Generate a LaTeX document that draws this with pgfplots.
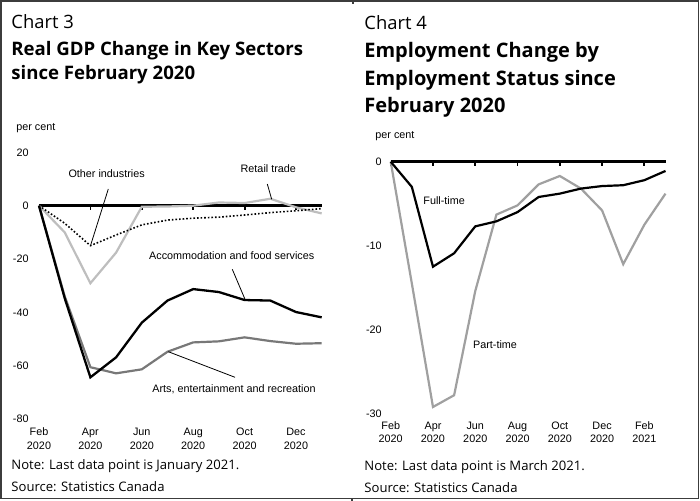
\documentclass[border=0pt]{standalone}
\usepackage{fontspec}
\usepackage{pgfplots}
\pgfplotsset{compat=1.18}
\newfontfamily\seg{Open Sans}
\newfontfamily\ari{Liberation Sans}
\definecolor{retail}{RGB}{190,190,190}
\definecolor{arts}{RGB}{120,120,120}
\definecolor{part}{RGB}{160,160,160}
\definecolor{frame}{RGB}{60,60,60}
\newcommand{\lab}{\ari\fontsize{5.4}{7}\selectfont}
\begin{document}
\begin{tikzpicture}[x=0.5pt,y=-0.5pt]
\path[use as bounding box] (0,0) rectangle (700,501);
\draw[frame, line width=0.8pt] (1,1) rectangle (698.5,498.5);
\draw[frame, line width=0.6pt] (353,1)--(353,4);
\draw[frame, line width=0.6pt] (352,498.5)--(352,501);
% titles
\node[anchor=base west, inner sep=0] at (11,28.5) {\seg\fontsize{9.2}{11}\selectfont Chart 3};
\node[anchor=base west, inner sep=0] at (11,55.5) {\seg\bfseries\fontsize{9.3}{11}\selectfont Real GDP Change in Key Sectors};
\node[anchor=base west, inner sep=0] at (11,80) {\seg\bfseries\fontsize{9.3}{11}\selectfont since February 2020};
\node[anchor=base west, inner sep=0] at (364,29.3) {\seg\fontsize{9.2}{11}\selectfont Chart 4};
\node[anchor=base west, inner sep=0] at (364,57.3) {\seg\bfseries\fontsize{10}{11}\selectfont Employment Change by};
\node[anchor=base west, inner sep=0] at (364,85.7) {\seg\bfseries\fontsize{10}{11}\selectfont Employment Status since};
\node[anchor=base west, inner sep=0] at (364,112.7) {\seg\bfseries\fontsize{10}{11}\selectfont February 2020};
% notes
\node[anchor=base west, inner sep=0] at (11,469.5) {\seg\fontsize{6.55}{8}\selectfont Note: Last data point is January 2021.};
\node[anchor=base west, inner sep=0] at (11,491.7) {\seg\fontsize{6.55}{8}\selectfont Source: Statistics Canada};
\node[anchor=base west, inner sep=0] at (364,470.7) {\seg\fontsize{6.55}{8}\selectfont Note: Last data point is March 2021.};
\node[anchor=base west, inner sep=0] at (364,492.3) {\seg\fontsize{6.55}{8}\selectfont Source: Statistics Canada};
% per cent
\node[anchor=west, inner sep=0] at (16,127.7) {\lab per cent};
\node[anchor=west, inner sep=0] at (375,135.7) {\lab per cent};
\coordinate (A3) at (39,418.9);
\coordinate (A4) at (390.7,413.7);
\begin{axis}[at={(A3)}, anchor=south west, scale only axis,
  width=141.35pt, height=133.25pt,
  xmin=0, xmax=11, ymin=-80, ymax=20, clip=false,
  axis line style={draw=none}, major tick length=0,
  xtick={0,2,4,6,8,10},
  xticklabels={Feb,Apr,Jun,Aug,Oct,Dec},
  xticklabel style={inner sep=0, anchor=base, font=\lab},
  xticklabel shift=0pt,
  every x tick label/.append style={yshift=-8.5pt},
  extra x ticks={0,2,4,6,8,10},
  extra x tick labels={2020,2020,2020,2020,2020,2020},
  extra x tick style={major tick length=0, xticklabel style={yshift=-7pt}},
  ytick={-80,-60,-40,-20,0,20},
  yticklabels={-80,-60,-40,-20,0,20},
  yticklabel style={inner sep=0, anchor=east, xshift=-5pt, font=\lab},
]
\addplot[black, line width=1.5pt] coordinates {(0,0)(11,0)};
\addplot[black, line width=0.9pt, ycomb] coordinates {(2,-1.6)(4,-1.6)(6,-1.6)(8,-1.6)(10,-1.6)};
\addplot[retail, line width=1.1pt] coordinates {(0,0)(1,-10.0)(2,-29.1)(3,-17.6)(4,-0.4)(5,-0.3)(6,0.0)(7,1.2)(8,1.0)(9,2.6)(10,-0.6)(11,-2.9)};
\addplot[black, line width=0.8pt, densely dotted] coordinates {(0,0)(1,-6.6)(2,-15.0)(3,-11.0)(4,-7.2)(5,-5.4)(6,-4.7)(7,-4.3)(8,-3.5)(9,-2.6)(10,-1.9)(11,-1.1)};
\addplot[arts, line width=1.1pt] coordinates {(0,0)(1,-34.0)(2,-60.6)(3,-62.9)(4,-61.4)(5,-54.8)(6,-51.3)(7,-50.9)(8,-49.4)(9,-50.8)(10,-51.8)(11,-51.6)};
\addplot[black, line width=1.15pt] coordinates {(0,0)(1,-34.7)(2,-64.4)(3,-56.9)(4,-43.9)(5,-35.6)(6,-31.3)(7,-32.4)(8,-35.4)(9,-35.6)(10,-39.9)(11,-41.9)};
\end{axis}
\begin{axis}[at={(A4)}, anchor=south west, scale only axis,
  width=137.4pt, height=126pt,
  xmin=0, xmax=13, ymin=-30, ymax=0, clip=false,
  axis line style={draw=none}, major tick length=0,
  xtick={0,2,4,6,8,10,12},
  xticklabels={Feb,Apr,Jun,Aug,Oct,Dec,Feb},
  xticklabel style={inner sep=0, anchor=base, font=\lab},
  xticklabel shift=0pt,
  every x tick label/.append style={yshift=-8.1pt},
  extra x ticks={0,2,4,6,8,10,12},
  extra x tick labels={2020,2020,2020,2020,2020,2020,2021},
  extra x tick style={major tick length=0, xticklabel style={yshift=-6.5pt}},
  ytick={-30,-20,-10,0},
  yticklabels={-30,-20,-10,0},
  yticklabel style={inner sep=0, anchor=east, xshift=-4.3pt, font=\lab},
]
\addplot[black, line width=1.5pt] coordinates {(0,0)(13,0)};
\addplot[black, line width=0.9pt, ycomb] coordinates {(0,-0.55)(2,-0.55)(4,-0.55)(6,-0.55)(8,-0.55)(10,-0.55)(12,-0.55)};
\addplot[part, line width=1.1pt] coordinates {(0,0)(1,-14.5)(2,-29.2)(3,-27.8)(4,-15.4)(5,-6.3)(6,-5.2)(7,-2.7)(8,-1.7)(9,-3.2)(10,-5.8)(11,-12.2)(12,-7.5)(13,-3.8)};
\addplot[black, line width=1.1pt] coordinates {(0,0)(1,-3.0)(2,-12.5)(3,-10.9)(4,-7.7)(5,-7.1)(6,-6.0)(7,-4.2)(8,-3.8)(9,-3.2)(10,-2.9)(11,-2.8)(12,-2.2)(13,-1.1)};
\end{axis}
% annotations chart 3
\node[inner sep=0] at (106.7,173.3) {\lab Other industries};
\draw[black, line width=0.4pt] (108.3,189)--(90.7,245);
\node[inner sep=0] at (268.3,168.3) {\lab Retail trade};
\draw[black, line width=0.4pt] (267.3,184)--(271.7,199.3);
\node[inner sep=0] at (231.7,255.7) {\lab Accommodation and food services};
\draw[black, line width=0.4pt] (232.3,269.3)--(245,299.3);
\node[inner sep=0] at (234,389) {\lab Arts, entertainment and recreation};
\draw[black, line width=0.4pt] (235,377.3)--(168.3,351.7);
% annotations chart 4
\node[anchor=west, inner sep=0] at (423,200.7) {\lab Full-time};
\node[anchor=west, inner sep=0] at (472.7,344.3) {\lab Part-time};
\end{tikzpicture}
\end{document}
